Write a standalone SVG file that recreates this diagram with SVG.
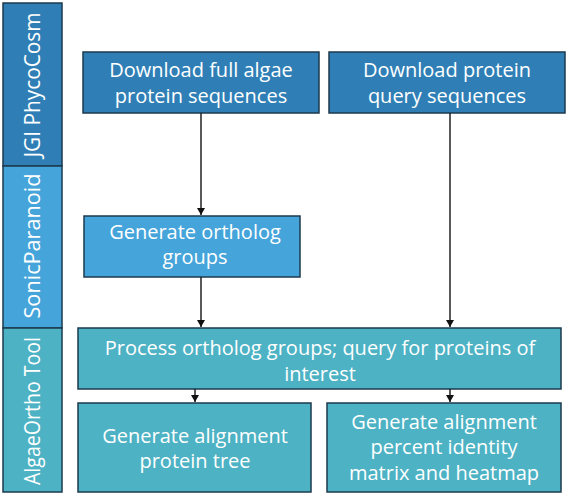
<svg xmlns="http://www.w3.org/2000/svg" width="567" height="494" viewBox="0 0 567 494">
<defs>
<marker id="ah" markerWidth="8" markerHeight="9" refX="7" refY="4" orient="auto" markerUnits="userSpaceOnUse">
<path d="M0,0 L7,4 L0,8 Z" fill="#111"/>
</marker>
<style>
.box{stroke:#1d3a4e;stroke-width:1.5}
.dark{fill:#2f7fb6}
.mid{fill:#45a4da}
.teal{fill:#4db2c4}
.t{font-family:"Open Sans","Liberation Sans",sans-serif;font-size:20px;fill:#fff;text-anchor:middle}
.lane{font-size:21px}
.conn{stroke:#222;stroke-width:1.5;fill:none;marker-end:url(#ah)}
</style>
</defs>
<rect width="567" height="494" fill="#fff"/>
<g id="lane-jgi">
<rect class="box dark" x="3" y="3" width="59" height="163"/>
<text class="t lane" transform="translate(40,85) rotate(-90)" textLength="145" lengthAdjust="spacingAndGlyphs">JGI PhycoCosm</text>
</g>
<g id="lane-sonic">
<rect class="box mid" x="3" y="166" width="59" height="162"/>
<text class="t lane" transform="translate(40,246) rotate(-90)" textLength="145" lengthAdjust="spacingAndGlyphs">SonicParanoid</text>
</g>
<g id="lane-algae">
<rect class="box teal" x="3" y="328" width="59" height="164"/>
<text class="t lane" transform="translate(40,411) rotate(-90)" textLength="148" lengthAdjust="spacingAndGlyphs">AlgaeOrtho Tool</text>
</g>
<g id="n1">
<rect class="box dark" x="83" y="52" width="236" height="61"/>
<text class="t" x="201" y="77">Download full algae</text>
<text class="t" x="201" y="103">protein sequences</text>
</g>
<g id="n2">
<rect class="box dark" x="329" y="52" width="236" height="61"/>
<text class="t" x="447" y="77">Download protein</text>
<text class="t" x="447" y="103">query sequences</text>
</g>
<g id="n3">
<rect class="box mid" x="84" y="216" width="216" height="61"/>
<text class="t" x="195" y="239">Generate ortholog</text>
<text class="t" x="195" y="264">groups</text>
</g>
<g id="n4">
<rect class="box teal" x="78" y="328" width="483" height="61"/>
<text class="t" x="320" y="355">Process ortholog groups; query for proteins of</text>
<text class="t" x="320" y="381">interest</text>
</g>
<g id="n5">
<rect class="box teal" x="78" y="403" width="233" height="89"/>
<text class="t" x="195" y="443">Generate alignment</text>
<text class="t" x="195" y="468">protein tree</text>
</g>
<g id="n6">
<rect class="box teal" x="327" y="403" width="234" height="89"/>
<text class="t" x="444" y="429">Generate alignment</text>
<text class="t" x="444" y="454">percent identity</text>
<text class="t" x="444" y="480">matrix and heatmap</text>
</g>
<g id="connectors">
<line class="conn" x1="201" y1="113" x2="201" y2="215"/>
<line class="conn" x1="201" y1="277" x2="201" y2="327"/>
<line class="conn" x1="450" y1="113" x2="450" y2="327"/>
<line class="conn" x1="195" y1="389" x2="195" y2="402"/>
<line class="conn" x1="450" y1="389" x2="450" y2="402"/>
</g>
</svg>
